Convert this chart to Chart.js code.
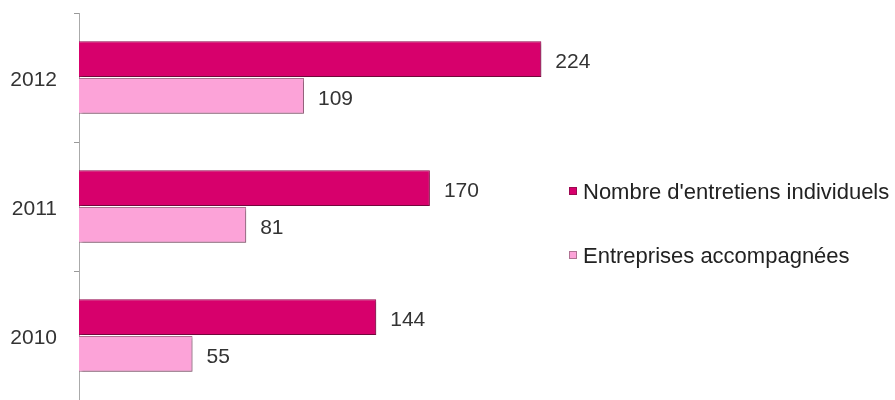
<!DOCTYPE html>
<html>
<head>
<meta charset="utf-8">
<script src="https://cdn.jsdelivr.net/npm/chart.js@4"></script>
<style>
  html, body { margin: 0; padding: 0; background: #fff; }
  #wrap { width: 895px; height: 400px; }
</style>
</head>
<body>
<div id="wrap"><canvas id="bars"></canvas></div>
<script>
var years = ['2012', '2011', '2010'];
var entretiens = [224, 170, 144];
var entreprises = [109, 81, 55];
var seriesNames = ["Nombre d'entretiens individuels", 'Entreprises accompagnées'];

var FONT = '"Liberation Sans", Arial, sans-serif';

// shadow under the bars
var barShadow = {
    id: 'barShadow',
    beforeDatasetsDraw: function(chart) {
        var ctx = chart.ctx;
        ctx.save();
        ctx.shadowColor = 'rgba(0,0,0,0.35)';
        ctx.shadowBlur = 3;
        ctx.shadowOffsetX = 1.5;
        ctx.shadowOffsetY = 2;
    },
    afterDatasetsDraw: function(chart) {
        chart.ctx.restore();
    }
};

// values at the end of each bar
var valueLabels = {
    id: 'valueLabels',
    afterDraw: function(chart) {
        var ctx = chart.ctx;
        ctx.save();
        ctx.font = '21px ' + FONT;
        ctx.fillStyle = '#333';
        ctx.textBaseline = 'middle';
        chart.data.datasets.forEach(function(ds, i) {
            chart.getDatasetMeta(i).data.forEach(function(bar, j) {
                ctx.fillText(ds.data[j], bar.x + 14, bar.y + 3);
            });
        });
        ctx.restore();
    }
};

// legend on the right
var sideLegend = {
    id: 'sideLegend',
    afterDraw: function(chart) {
        var ctx = chart.ctx;
        ctx.save();
        ctx.font = '22px ' + FONT;
        ctx.textBaseline = 'middle';
        chart.data.datasets.forEach(function(ds, i) {
            var y = 191 + i * 64;
            ctx.fillStyle = ds.backgroundColor;
            ctx.fillRect(569, y - 4, 8, 8);
            ctx.strokeStyle = ds.borderColor;
            ctx.lineWidth = 1;
            ctx.strokeRect(569.5, y - 3.5, 7, 7);
            ctx.fillStyle = '#222';
            ctx.fillText(ds.label, 583, y + 2);
        });
        ctx.restore();
    }
};

new Chart(document.getElementById('bars').getContext('2d'), {
    type: 'bar',
    data: {
        labels: years,
        datasets: [{
            label: seriesNames[0],
            data: entretiens,
            backgroundColor: '#d7006c',
            borderColor: '#9c0a52',
            borderWidth: 1
        }, {
            label: seriesNames[1],
            data: entreprises,
            backgroundColor: '#fca3d8',
            borderColor: '#b07393',
            borderWidth: 1
        }]
    },
    options: {
        indexAxis: 'y',
        responsive: true,
        maintainAspectRatio: false,
        animation: false,
        events: [],
        layout: { padding: { left: 10, top: 13, right: 300, bottom: 0 } },
        datasets: {
            bar: { categoryPercentage: 0.57, barPercentage: 0.97 }
        },
        plugins: {
            legend: { display: false },
            tooltip: { enabled: false }
        },
        scales: {
            x: {
                display: false,
                min: 0,
                max: 250
            },
            y: {
                afterFit: function(scale) {
                    scale.width = 69;
                    scale.paddingTop = 0;
                    scale.paddingBottom = 0;
                },
                grid: {
                    drawOnChartArea: false,
                    drawTicks: true,
                    tickLength: 5,
                    color: '#999'
                },
                border: { display: true, color: '#aaa' },
                ticks: {
                    padding: 17,
                    labelOffset: 3,
                    color: '#333',
                    font: { family: FONT, size: 21 }
                }
            }
        }
    },
    plugins: [barShadow, valueLabels, sideLegend]
});
</script>
</body>
</html>
